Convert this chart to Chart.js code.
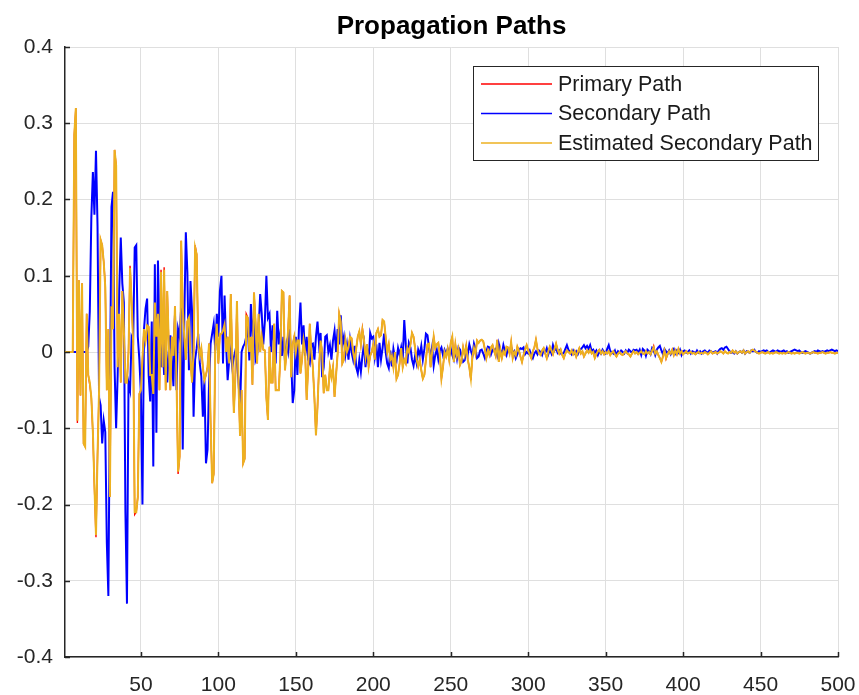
<!DOCTYPE html>
<html>
<head>
<meta charset="utf-8">
<title>Propagation Paths</title>
<script src="https://cdn.jsdelivr.net/npm/chart.js@4.4.1/dist/chart.umd.min.js"></script>
<style>
  html, body { margin: 0; padding: 0; background: #fff; }
  #wrap { position: relative; width: 859px; height: 695px; }
</style>
</head>
<body>
<div id="wrap"><canvas id="chart" width="859" height="695"></canvas></div>
<script>
// impulse responses, one value per sample (1..500)
const primaryPath = [
  0, 0, 0, 0, 0, 0, 0.285, 0.32, -0.093, 0.094,
  -0.057, 0.09, -0.12, -0.124, 0.05, -0.03, -0.043, -0.06, -0.108, -0.178,
  -0.243, -0.135, -0.05, 0.147, 0.14, 0.118, 0.088, -0.05, 0.03, -0.19,
  0.06, 0.03, 0.265, 0.245, -0.02, 0.05, -0.04, 0.08, 0.03, -0.04,
  -0.04, 0.0, 0.113, 0.066, 0.013, -0.213, -0.21, -0.19, -0.055, -0.05,
  -0.01, 0.03, 0.015, 0.035, 0.033, -0.03, -0.03, -0.055, 0.065, 0.02,
  0.05, -0.05, 0.108, -0.02, 0.111, -0.05, 0.08, 0.01, -0.05, 0.02,
  -0.005, 0.06, -0.04, -0.16, -0.137, 0.146, 0.061, 0.02, -0.01, 0.04,
  0.045, -0.01, -0.04, 0.0, 0.14, 0.128, 0.01, -0.005, 0.005, -0.02,
  -0.037, -0.03, -0.02, 0.011, -0.093, -0.172, -0.16, 0.007, 0.037, -0.015,
  0.024, 0.024, 0.028, 0.036, 0.0, 0.02, -0.015, 0.076, -0.01, -0.08,
  -0.03, 0.067, -0.04, -0.11, -0.05, -0.146, -0.14, 0.05, 0.045, 0.0,
  0.02, -0.043, 0.078, 0.04, -0.015, 0.05, 0.0, 0.02, 0.003, 0.002,
  -0.06, -0.089, 0.007, -0.04, -0.04, 0.037, -0.05, -0.05, -0.05, -0.007,
  0.08, 0.078, -0.024, 0.0, 0.028, 0.074, -0.033, 0.01, 0.02, 0.0,
  0.015, 0.015, -0.028, -0.01, 0.015, 0.0, -0.063, -0.02, 0.037, 0.0,
  -0.02, -0.06, -0.109, -0.072, -0.02, 0.015, 0.0, -0.054, -0.03, -0.05,
  -0.05, -0.02, -0.033, -0.02, -0.059, -0.03, -0.002, 0.05, 0.04, -0.015,
  -0.01, 0.015, 0.0, 0.006, 0.02, 0.018, 0.0, -0.012, 0.005, 0.02,
  0.027, 0.01, 0.031, 0.016, -0.006, 0.01, -0.019, -0.005, 0.0, 0.01,
  -0.01, 0.025, 0.03, 0.02, 0.022, 0.042, 0.04, 0.02, 0.0, 0.01,
  -0.01, -0.005, -0.02, 0.0, -0.035, -0.03, -0.015, 0.005, -0.02, -0.01,
  -0.015, 0.005, 0.0, 0.01, 0.025, 0.02, 0.005, -0.01, -0.019, -0.01,
  -0.024, -0.035, -0.03, -0.01, 0.01, 0.011, -0.02, 0.0, 0.02, 0.005,
  0.01, 0.012, -0.005, -0.035, -0.02, 0.0, -0.006, 0.004, -0.01, 0.012,
  0.02, -0.013, 0.01, -0.005, 0.004, -0.017, -0.012, 0.006, -0.004, 0.008,
  -0.01, -0.02, -0.037, -0.006, 0.005, -0.003, 0.015, 0.012, 0.015, 0.016,
  0.014, 0.004, -0.008, 0.002, -0.004, 0.006, 0.009, 0.002, -0.005, 0.016,
  -0.013, 0.003, -0.008, 0.001, -0.003, 0.007, 0.006, -0.002, 0.013, -0.008,
  0.0, -0.004, 0.007, 0.002, -0.006, -0.013, -0.004, 0.003, 0.009, 0.002,
  -0.003, -0.008, 0.001, 0.006, 0.016, 0.004, -0.002, -0.004, 0.002, 0.005,
  -0.002, -0.008, 0.001, 0.007, 0.002, -0.003, 0.004, 0.011, 0.003, -0.002,
  0.003, -0.004, -0.008, -0.002, 0.002, 0.0, -0.002, 0.002, -0.003, 0.001,
  -0.006, 0.0, 0.005, -0.002, 0.001, -0.006, -0.002, 0.002, -0.001, 0.003,
  -0.002, 0.0, -0.008, -0.003, 0.001, 0.003, -0.002, 0.001, -0.003, 0.0,
  -0.002, 0.001, -0.004, -0.001, 0.001, -0.003, -0.006, -0.002, 0.0, -0.003,
  -0.004, -0.001, 0.001, -0.002, -0.003, -0.006, -0.002, 0.001, -0.002, 0.0,
  -0.003, -0.001, 0.001, -0.002, -0.003, 0.001, -0.002, 0.0, -0.003, 0.002,
  0.008, -0.002, 0.001, -0.004, -0.008, -0.013, -0.006, 0.002, -0.009, -0.003,
  0.001, -0.002, 0.003, -0.004, 0.002, -0.003, 0.004, -0.002, 0.001, -0.003,
  -0.001, 0.001, -0.002, -0.001, 0.0, -0.002, -0.001, -0.003, -0.001, 0.0,
  -0.002, -0.001, -0.002, 0.0, -0.001, -0.003, -0.001, 0.001, -0.002, -0.001,
  0.0, -0.002, -0.001, 0.001, 0.0, -0.002, 0.001, -0.001, -0.002, 0.0,
  -0.001, 0.002, -0.001, 0.001, -0.002, 0.0, 0.001, -0.001, 0.002, -0.002,
  0.0, 0.001, -0.001, 0.002, 0.003, 0.002, 0.0, -0.001, -0.002, -0.001,
  0.0, -0.001, -0.002, -0.001, 0.0, -0.002, -0.001, -0.002, -0.001, 0.0,
  -0.001, -0.002, -0.001, -0.002, -0.001, -0.002, -0.001, 0.0, -0.001, -0.002,
  -0.001, -0.002, -0.001, -0.001, -0.002, -0.001, 0.0, -0.001, -0.002, -0.001,
  -0.001, -0.002, -0.001, 0.0, -0.001, -0.001, -0.002, -0.001, -0.001, 0.0,
  -0.001, -0.002, -0.001, -0.001, 0.0, -0.001, -0.001, -0.002, -0.001, -0.001
];

const secondaryPath = [
  0, 0, 0, 0, 0, 0, 0, 0, 0, 0,
  0, 0, 0, 0, 0, 0.007, 0.053, 0.176, 0.236, 0.18,
  0.264, 0.165, -0.06, -0.07, -0.12, -0.09, -0.105, -0.25, -0.32, -0.06,
  0.19, 0.21, -0.02, -0.1, -0.03, 0.08, 0.15, 0.09, 0.065, -0.21,
  -0.33, -0.04, -0.05, 0.02, 0.015, 0.137, 0.14, 0.02, -0.01, -0.055,
  -0.2, 0.03, 0.057, 0.07, -0.03, -0.065, 0.04, -0.15, 0.115, -0.106,
  0.12, 0.03, -0.02, 0.01, -0.03, 0.02, -0.04, 0.0, 0.022, -0.01,
  -0.045, 0.05, -0.05, 0.03, 0.02, 0.058, -0.128, 0.04, 0.157, 0.104,
  -0.024, 0.093, 0.054, -0.085, -0.01, 0.005, 0.024, -0.015, -0.032, -0.085,
  -0.037, -0.146, -0.128, -0.04, 0.011, 0.024, 0.037, 0.002, 0.05, 0.02,
  0.08, 0.1, -0.015, 0.074, 0.01, -0.037, -0.011, 0.002, -0.02, -0.007,
  0.002, -0.015, -0.037, -0.076, 0.0, 0.007, 0.011, 0.02, 0.033, -0.011,
  0.063, 0.02, 0.045, -0.011, -0.005, 0.03, 0.076, 0.05, 0.01, 0.04,
  0.1, 0.045, 0.05, 0.0, 0.035, 0.012, -0.015, 0.054, 0.01, 0.025,
  -0.005, 0.02, -0.012, 0.01, 0.0, 0.03, -0.01, -0.067, -0.05, 0.02,
  -0.03, 0.03, 0.065, 0.01, 0.035, -0.005, 0.02, -0.01, -0.015, 0.01,
  0.011, -0.01, 0.02, 0.04, 0.01, 0.025, -0.033, -0.02, 0.02, 0.022,
  0.0, 0.009, -0.01, 0.015, 0.028, 0.0, 0.03, 0.01, 0.048, 0.01,
  0.02, -0.004, 0.01, -0.01, 0.016, 0.0, -0.01, 0.008, -0.02, -0.028,
  -0.01, -0.026, -0.005, 0.01, -0.02, 0.005, -0.015, 0.025, 0.018, 0.02,
  -0.006, 0.01, -0.02, 0.012, -0.01, 0.005, 0.024, 0.0, -0.015, -0.021,
  0.002, -0.019, 0.004, -0.008, -0.012, 0.005, -0.004, 0.006, -0.01, 0.042,
  0.01, -0.015, 0.012, 0.006, -0.01, -0.018, -0.005, -0.015, 0.003, -0.004,
  0.008, -0.01, 0.004, 0.024, 0.022, 0.005, -0.006, 0.007, -0.018, -0.004,
  0.003, -0.01, 0.002, 0.006, -0.004, 0.003, -0.003, 0.004, -0.005, 0.005,
  -0.004, -0.01, 0.002, -0.009, 0.006, 0.003, -0.006, -0.013, -0.011, 0.004,
  -0.003, 0.01, 0.002, -0.005, 0.011, 0.004, -0.008, -0.006, 0.002, 0.003,
  -0.002, -0.008, 0.001, 0.007, 0.006, -0.003, 0.003, 0.002, 0.004, -0.004,
  0.011, 0.002, -0.003, 0.009, 0.001, -0.004, 0.005, 0.003, 0.006, -0.002,
  0.001, -0.008, -0.003, 0.002, 0.005, 0.004, 0.006, -0.003, 0.0, -0.002,
  0.002, -0.004, -0.008, -0.002, 0.001, -0.003, 0.002, 0.0, -0.004, 0.003,
  -0.001, 0.005, -0.003, 0.003, -0.002, 0.009, 0.002, 0.005, -0.001, 0.002,
  -0.002, -0.003, -0.001, 0.004, 0.009, 0.003, 0.0, -0.003, 0.002, -0.002,
  0.001, -0.003, 0.002, 0.004, 0.006, 0.009, 0.005, 0.008, 0.004, 0.009,
  0.001, 0.003, -0.001, 0.002, -0.004, 0.001, -0.002, 0.003, 0.0, -0.002,
  0.004, 0.009, 0.001, 0.0, -0.002, 0.002, -0.004, 0.001, -0.001, 0.002,
  0.0, -0.002, 0.002, -0.001, 0.003, 0.001, -0.001, 0.003, 0.002, 0.003,
  -0.001, 0.003, -0.004, 0.004, 0.002, -0.005, 0.003, 0.001, -0.003, 0.005,
  0.002, -0.004, 0.003, 0.006, 0.008, 0.002, -0.003, 0.004, 0.001, -0.002,
  0.002, -0.003, 0.001, 0.004, -0.002, 0.002, -0.001, 0.003, -0.004, 0.001,
  0.002, -0.001, 0.0, 0.002, -0.002, 0.001, 0.0, -0.002, 0.002, -0.001,
  0.001, -0.002, 0.001, 0.002, 0.0, -0.001, 0.002, 0.001, -0.001, 0.0,
  0.001, -0.002, 0.002, 0.004, 0.005, 0.003, 0.006, 0.007, 0.004, 0.001,
  -0.001, 0.0, -0.002, 0.001, -0.002, 0.0, 0.001, -0.001, 0.002, -0.002,
  0.001, 0.0, -0.001, 0.002, 0.001, 0.003, 0.0, -0.001, 0.001, 0.0,
  0.001, 0.002, 0.001, 0.002, 0.0, -0.001, 0.001, 0.002, 0.001, 0.0,
  0.002, 0.001, 0.0, 0.001, 0.002, 0.0, 0.001, -0.001, 0.0, 0.001,
  0.002, 0.003, 0.002, 0.001, 0.002, 0.0, -0.001, 0.0, 0.001, 0.0,
  -0.001, -0.002, -0.001, 0.0, 0.001, 0.0, 0.002, 0.001, 0.0, 0.001,
  0.0, 0.001, 0.002, 0.001, 0.002, 0.003, 0.002, 0.001, 0.002, 0.001
];

const estimatedSecondaryPath = [
  0, 0, 0, 0, 0, 0, 0.285, 0.32, -0.09, 0.094,
  -0.057, 0.09, -0.12, -0.124, 0.05, -0.03, -0.04, -0.06, -0.105, -0.175,
  -0.24, -0.135, -0.05, 0.147, 0.14, 0.118, 0.085, -0.05, 0.03, -0.19,
  0.06, 0.03, 0.265, 0.245, -0.02, 0.05, -0.04, 0.08, 0.03, -0.04,
  -0.04, 0.0, 0.11, 0.066, 0.013, -0.21, -0.21, -0.19, -0.055, -0.05,
  -0.01, 0.03, 0.015, 0.035, 0.033, -0.03, -0.03, -0.055, 0.065, 0.02,
  0.05, -0.05, 0.105, -0.02, 0.108, -0.05, 0.08, 0.01, -0.05, 0.02,
  -0.005, 0.06, -0.04, -0.157, -0.137, 0.146, 0.059, 0.02, -0.01, 0.04,
  0.045, -0.01, -0.04, 0.0, 0.137, 0.128, 0.01, -0.005, 0.005, -0.02,
  -0.037, -0.03, -0.02, 0.011, -0.093, -0.172, -0.16, 0.007, 0.037, -0.015,
  0.024, 0.024, 0.028, 0.036, 0.0, 0.02, -0.015, 0.076, -0.01, -0.08,
  -0.03, 0.067, -0.04, -0.11, -0.05, -0.146, -0.14, 0.047, 0.045, 0.0,
  0.02, -0.043, 0.078, 0.04, -0.015, 0.05, 0.0, 0.02, 0.003, 0.002,
  -0.06, -0.089, 0.007, -0.04, -0.04, 0.037, -0.05, -0.05, -0.05, -0.007,
  0.08, 0.078, -0.024, 0.0, 0.028, 0.074, -0.033, 0.01, 0.02, 0.0,
  0.015, 0.015, -0.028, -0.01, 0.015, 0.0, -0.063, -0.02, 0.037, 0.0,
  -0.02, -0.06, -0.109, -0.072, -0.02, 0.015, 0.0, -0.054, -0.03, -0.05,
  -0.05, -0.02, -0.033, -0.02, -0.059, -0.03, -0.002, 0.05, 0.04, -0.015,
  -0.01, 0.015, 0.0, 0.006, 0.02, 0.018, 0.0, -0.012, 0.005, 0.02,
  0.027, 0.01, 0.029, 0.016, -0.006, 0.01, -0.019, -0.005, 0.0, 0.01,
  -0.01, 0.025, 0.03, 0.02, 0.022, 0.042, 0.04, 0.02, 0.0, 0.01,
  -0.01, -0.005, -0.02, 0.0, -0.035, -0.03, -0.015, 0.005, -0.02, -0.01,
  -0.015, 0.005, 0.0, 0.01, 0.025, 0.02, 0.005, -0.01, -0.019, -0.01,
  -0.024, -0.035, -0.03, -0.01, 0.01, 0.011, -0.02, 0.0, 0.02, 0.005,
  0.01, 0.012, -0.005, -0.035, -0.02, 0.0, -0.006, 0.004, -0.01, 0.012,
  0.02, -0.013, 0.01, -0.005, 0.004, -0.017, -0.012, 0.006, -0.004, 0.008,
  -0.01, -0.02, -0.035, -0.006, 0.005, -0.003, 0.015, 0.012, 0.015, 0.016,
  0.014, 0.004, -0.008, 0.002, -0.004, 0.006, 0.009, 0.002, -0.005, 0.016,
  -0.013, 0.003, -0.008, 0.001, -0.003, 0.007, 0.006, -0.002, 0.013, -0.008,
  0.0, -0.004, 0.007, 0.002, -0.006, -0.013, -0.004, 0.003, 0.009, 0.002,
  -0.003, -0.008, 0.001, 0.006, 0.016, 0.004, -0.002, -0.004, 0.002, 0.005,
  -0.002, -0.008, 0.001, 0.007, 0.002, -0.003, 0.004, 0.011, 0.003, -0.002,
  0.003, -0.004, -0.008, -0.002, 0.002, 0.0, -0.002, 0.002, -0.003, 0.001,
  -0.006, 0.0, 0.005, -0.002, 0.001, -0.006, -0.002, 0.002, -0.001, 0.003,
  -0.002, 0.0, -0.008, -0.003, 0.001, 0.003, -0.002, 0.001, -0.003, 0.0,
  -0.002, 0.001, -0.004, -0.001, 0.001, -0.003, -0.006, -0.002, 0.0, -0.003,
  -0.004, -0.001, 0.001, -0.002, -0.003, -0.006, -0.002, 0.001, -0.002, 0.0,
  -0.003, -0.001, 0.001, -0.002, -0.003, 0.001, -0.002, 0.0, -0.003, 0.002,
  0.006, -0.002, 0.001, -0.004, -0.008, -0.013, -0.006, 0.002, -0.008, -0.003,
  0.001, -0.002, 0.003, -0.004, 0.002, -0.003, 0.004, -0.002, 0.001, -0.003,
  -0.001, 0.001, -0.002, -0.001, 0.0, -0.002, -0.001, -0.003, -0.001, 0.0,
  -0.002, -0.001, -0.002, 0.0, -0.001, -0.003, -0.001, 0.001, -0.002, -0.001,
  0.0, -0.002, -0.001, 0.001, 0.0, -0.002, 0.001, -0.001, -0.002, 0.0,
  -0.001, 0.002, -0.001, 0.001, -0.002, 0.0, 0.001, -0.001, 0.002, -0.002,
  0.0, 0.001, -0.001, 0.002, 0.003, 0.002, 0.0, -0.001, -0.002, -0.001,
  0.0, -0.001, -0.002, -0.001, 0.0, -0.002, -0.001, -0.002, -0.001, 0.0,
  -0.001, -0.002, -0.001, -0.002, -0.001, -0.002, -0.001, 0.0, -0.001, -0.002,
  -0.001, -0.002, -0.001, -0.001, -0.002, -0.001, 0.0, -0.001, -0.002, -0.001,
  -0.001, -0.002, -0.001, 0.0, -0.001, -0.001, -0.002, -0.001, -0.001, 0.0,
  -0.001, -0.002, -0.001, -0.001, 0.0, -0.001, -0.001, -0.002, -0.001, -0.001
];

const seriesNames = ['Primary Path', 'Secondary Path', 'Estimated Secondary Path'];
const titleText = 'Propagation Paths';
const xTicks = [50, 100, 150, 200, 250, 300, 350, 400, 450, 500];
const yTicks = [-0.4, -0.3, -0.2, -0.1, 0, 0.1, 0.2, 0.3, 0.4];

// sample index 1..500 for the x axis
const samples = primaryPath.map((_, i) => i + 1);

const AXIS = '#262626';
const FONT = "'Liberation Sans', Arial, Helvetica, sans-serif";

// matlab look: inward ticks, title centred on the axes, boxed legend in the corner
const matlabDecor = {
  id: 'matlabDecor',
  afterDraw(chart) {
    const { ctx, chartArea: a, scales: { x, y } } = chart;
    ctx.save();

    ctx.strokeStyle = AXIS;
    ctx.lineWidth = 1.5;
    ctx.beginPath();
    xTicks.forEach(v => {
      const px = Math.round(x.getPixelForValue(v)) + 0.5;
      ctx.moveTo(px, a.bottom);
      ctx.lineTo(px, a.bottom - 5);
    });
    yTicks.forEach(v => {
      const py = Math.round(y.getPixelForValue(v)) + 0.5;
      ctx.moveTo(a.left, py);
      ctx.lineTo(a.left + 5, py);
    });
    ctx.stroke();

    ctx.fillStyle = '#000';
    ctx.font = 'bold 26px ' + FONT;
    ctx.textAlign = 'center';
    ctx.textBaseline = 'alphabetic';
    ctx.fillText(titleText, (a.left + a.right) / 2, 34);

    // legend box
    const lx = 473.5, ly = 66.5, lw = 345, lh = 94;
    ctx.fillStyle = '#fff';
    ctx.fillRect(lx, ly, lw, lh);
    ctx.strokeStyle = AXIS;
    ctx.lineWidth = 1;
    ctx.strokeRect(lx, ly, lw, lh);
    ctx.font = '21.5px ' + FONT;
    ctx.textAlign = 'left';
    ctx.textBaseline = 'middle';
    chart.data.datasets.forEach((ds, i) => {
      const cy = 84 + i * 29.5;
      ctx.strokeStyle = ds.borderColor;
      ctx.lineWidth = 1.5;
      ctx.beginPath();
      ctx.moveTo(481, cy);
      ctx.lineTo(552, cy);
      ctx.stroke();
      ctx.fillStyle = '#1a1a1a';
      ctx.fillText(ds.label, 558, cy + 1);
    });

    ctx.restore();
  }
};

const ctx = document.getElementById('chart').getContext('2d');
new Chart(ctx, {
  type: 'line',
  data: {
    labels: samples,
    datasets: [
      { label: seriesNames[0], data: primaryPath, borderColor: '#ff0000', borderWidth: 1.4, order: 2 },
      { label: seriesNames[1], data: secondaryPath, borderColor: '#0000ff', borderWidth: 2, order: 1 },
      { label: seriesNames[2], data: estimatedSecondaryPath, borderColor: '#edb120', borderWidth: 2, order: 0 }
    ]
  },
  options: {
    responsive: false,
    animation: false,
    layout: { padding: { top: 47, right: 21, left: 0, bottom: 0 } },
    elements: {
      point: { radius: 0 },
      line: { tension: 0, fill: false, borderJoinStyle: 'miter' }
    },
    plugins: {
      legend: { display: false },
      title: { display: false },
      tooltip: { enabled: false }
    },
    scales: {
      x: {
        type: 'linear',
        min: 1,
        max: 500,
        afterBuildTicks: s => { s.ticks = xTicks.map(v => ({ value: v })); },
        afterFit: s => { s.height = 38; s.paddingLeft = 0; s.paddingRight = 0; },
        grid: { color: '#dfdfdf', lineWidth: 1, drawTicks: false },
        border: { color: AXIS, width: 1.5 },
        ticks: {
          color: AXIS,
          padding: 16,
          maxRotation: 0,
          font: { family: FONT, size: 21 },
          callback: v => String(v)
        }
      },
      y: {
        min: -0.4,
        max: 0.4,
        afterBuildTicks: s => { s.ticks = yTicks.map(v => ({ value: v })); },
        afterFit: s => { s.width = 65; s.paddingTop = 0; s.paddingBottom = 0; },
        grid: { color: '#dfdfdf', lineWidth: 1, drawTicks: false },
        border: { color: AXIS, width: 1.5 },
        ticks: {
          color: AXIS,
          padding: 12,
          font: { family: FONT, size: 21 },
          callback: v => String(v)
        }
      }
    }
  },
  plugins: [matlabDecor]
});
</script>
</body>
</html>
